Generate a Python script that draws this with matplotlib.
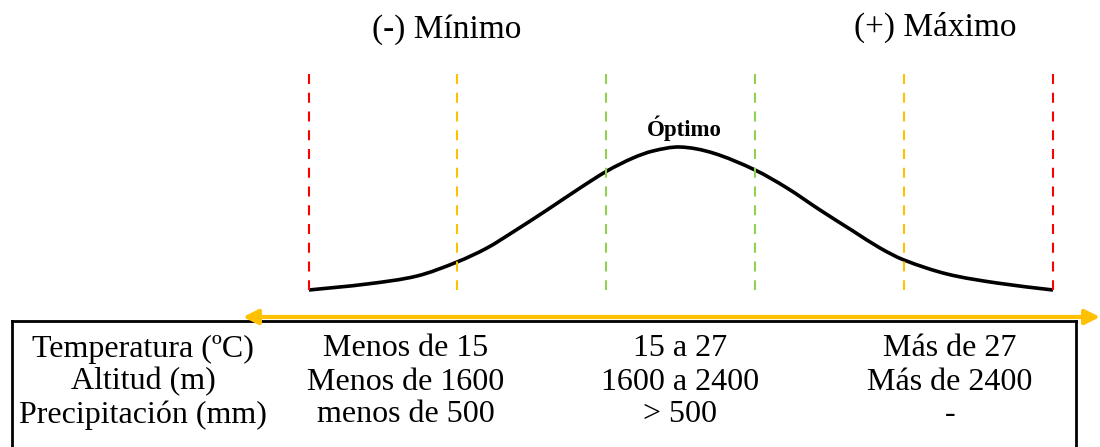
import matplotlib
matplotlib.use("Agg")
import matplotlib.pyplot as plt
from matplotlib.path import Path
from matplotlib.patches import PathPatch

# posiciones de las lineas de corte (px) y sus colores
cortes_x = [309, 457, 606, 755, 904, 1053]
cortes_color = ["#FF0000", "#FFC000", "#92D050", "#92D050", "#FFC000", "#FF0000"]

# curva de aptitud (x, altura en px desde arriba)
curva_x = [309, 367, 417, 457, 487, 513, 547, 580, 607, 633, 653, 680,
           713, 755, 787, 820, 853, 880, 904, 947, 997, 1053]
curva_y = [290, 284, 276, 262, 248, 232, 210, 188, 171, 158, 151, 147,
           153, 170, 188, 210, 231, 248, 260, 274, 283, 290]

filas = ["Temperatura (ºC)", "Altitud (m)", "Precipitación (mm)"]
bajo = ["Menos de 15", "Menos de 1600", "menos de 500"]
optimo = ["15 a 27", "1600 a 2400", "> 500"]
alto = ["Más de 27", "Más de 2400", "-"]


def suavizar(xs, ys):
    # Hermite cubica en y(x) -> Bezier, para que la linea no se vea quebrada
    n = len(xs)
    d = []
    for i in range(n):
        a = max(i - 1, 0)
        b = min(i + 1, n - 1)
        d.append((ys[b] - ys[a]) / (xs[b] - xs[a]))
    verts = [(xs[0], ys[0])]
    codes = [Path.MOVETO]
    for i in range(n - 1):
        h = xs[i + 1] - xs[i]
        c1 = (xs[i] + h / 3, ys[i] + d[i] * h / 3)
        c2 = (xs[i + 1] - h / 3, ys[i + 1] - d[i + 1] * h / 3)
        verts += [c1, c2, (xs[i + 1], ys[i + 1])]
        codes += [Path.CURVE4] * 3
    return Path(verts, codes)


fig = plt.figure(figsize=(11, 4.47), dpi=100)
ax = fig.add_axes([0, 0, 1, 1])
ax.set_xlim(0, 1100)
ax.set_ylim(447, 0)
ax.axis("off")

serif = "Liberation Serif"

for x, c in zip(cortes_x, cortes_color):
    ax.plot([x, x], [74, 290], color=c, lw=1.5, linestyle=(0, (4.8, 4.2)))

ax.add_patch(PathPatch(suavizar(curva_x, curva_y), facecolor="none",
                       edgecolor="black", lw=2.6))

ax.text(684, 128, "Óptimo", ha="center", va="center", fontsize=16.5,
        fontweight="bold", family=serif)
ax.text(447, 30, "(-) Mínimo", ha="center", va="center", fontsize=24, family=serif)
ax.text(935, 27, "(+) Máximo", ha="center", va="center", fontsize=24, family=serif)

# tabla
ax.plot([12, 1076], [321, 321], color="black", lw=2)
ax.plot([12, 12], [321, 447], color="black", lw=2)
ax.plot([1076, 1076], [321, 447], color="black", lw=2)

# flecha
ax.annotate("", xy=(1100, 317), xytext=(243, 317),
            arrowprops=dict(arrowstyle="<|-|>", color="#FFC000", lw=3,
                            mutation_scale=22, shrinkA=0, shrinkB=0))

filas_y = [349, 382, 415]
for i, y in enumerate(filas_y):
    ax.text(143, y, filas[i], ha="center", va="center", fontsize=23, family=serif)
    ax.text(406, y, bajo[i], ha="center", va="center", fontsize=23, family=serif)
    ax.text(680, y, optimo[i], ha="center", va="center", fontsize=23, family=serif)
    ax.text(950, y, alto[i], ha="center", va="center", fontsize=23, family=serif)

fig.savefig("out.png", dpi=100)
